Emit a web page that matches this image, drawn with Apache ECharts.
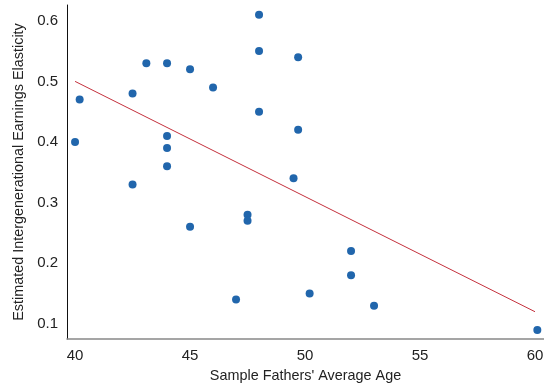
<!DOCTYPE html>
<html><head><meta charset="utf-8">
<script src="https://cdn.jsdelivr.net/npm/echarts@6/dist/echarts.min.js"></script>
<style>html,body{margin:0;padding:0;background:#fff}#c{width:544px;height:388px}</style>
</head><body><div id="c"></div>
<script>
const fatherAge = [40, 40.2, 42.5, 42.5, 43.1, 44, 44, 44, 44, 45, 45, 46, 47, 47.5, 47.5, 48, 48, 48, 49.5, 49.7, 49.7, 50.2, 52, 52, 53, 60.1];
const elasticity = [0.40, 0.47, 0.48, 0.33, 0.53, 0.53, 0.41, 0.39, 0.36, 0.52, 0.26, 0.49, 0.14, 0.28, 0.27, 0.61, 0.55, 0.45, 0.34, 0.54, 0.42, 0.15, 0.22, 0.18, 0.13, 0.09];
const fitX = [40, 60];
const fitY = [0.50, 0.12];
const xTicks = [40, 45, 50, 55, 60];
const yTicks = [0.1, 0.2, 0.3, 0.4, 0.5, 0.6];

const chart = echarts.init(document.getElementById('c'), null, {renderer: 'canvas'});
const font = 'Liberation Sans, Arial, sans-serif';
chart.setOption({
  animation: false,
  grid: {left: 67, right: 0, top: 5, bottom: 49, containLabel: false, outerBoundsMode: 'none'},
  xAxis: {
    type: 'value', min: 39.65, max: 60.39,
    name: "Sample Fathers' Average Age", nameLocation: 'middle', nameGap: 30, nameMoveOverlap: false,
    nameTextStyle: {fontFamily: font, fontSize: 14.4, color: '#222'},
    axisLine: {show: true, lineStyle: {color: '#888', width: 1.5}},
    axisTick: {show: false},
    splitLine: {show: false},
    axisLabel: {customValues: xTicks, fontFamily: font, fontSize: 15, color: '#222', margin: 9,
      formatter: v => String(v)}
  },
  yAxis: {
    type: 'value', min: 0.075, max: 0.626,
    name: 'Estimated Intergenerational Earnings Elasticity', nameLocation: 'middle', nameGap: 41, nameMoveOverlap: false,
    nameTextStyle: {fontFamily: font, fontSize: 14.4, color: '#222'},
    axisLine: {show: true, lineStyle: {color: '#111', width: 1}},
    axisTick: {show: false},
    splitLine: {show: false},
    axisLabel: {customValues: yTicks, fontFamily: font, fontSize: 15, color: '#222', margin: 9,
      formatter: v => v.toFixed(1)}
  },
  series: [
    {
      type: 'line', data: fitX.map((x, i) => [x, fitY[i]]), symbol: 'none',
      lineStyle: {color: '#c4303c', width: 1}, z: 1
    },
    {
      type: 'scatter', data: fatherAge.map((x, i) => [x, elasticity[i]]),
      symbolSize: 8, itemStyle: {color: '#2166ac', opacity: 1}, z: 2
    }
  ]
});
</script></body></html>
